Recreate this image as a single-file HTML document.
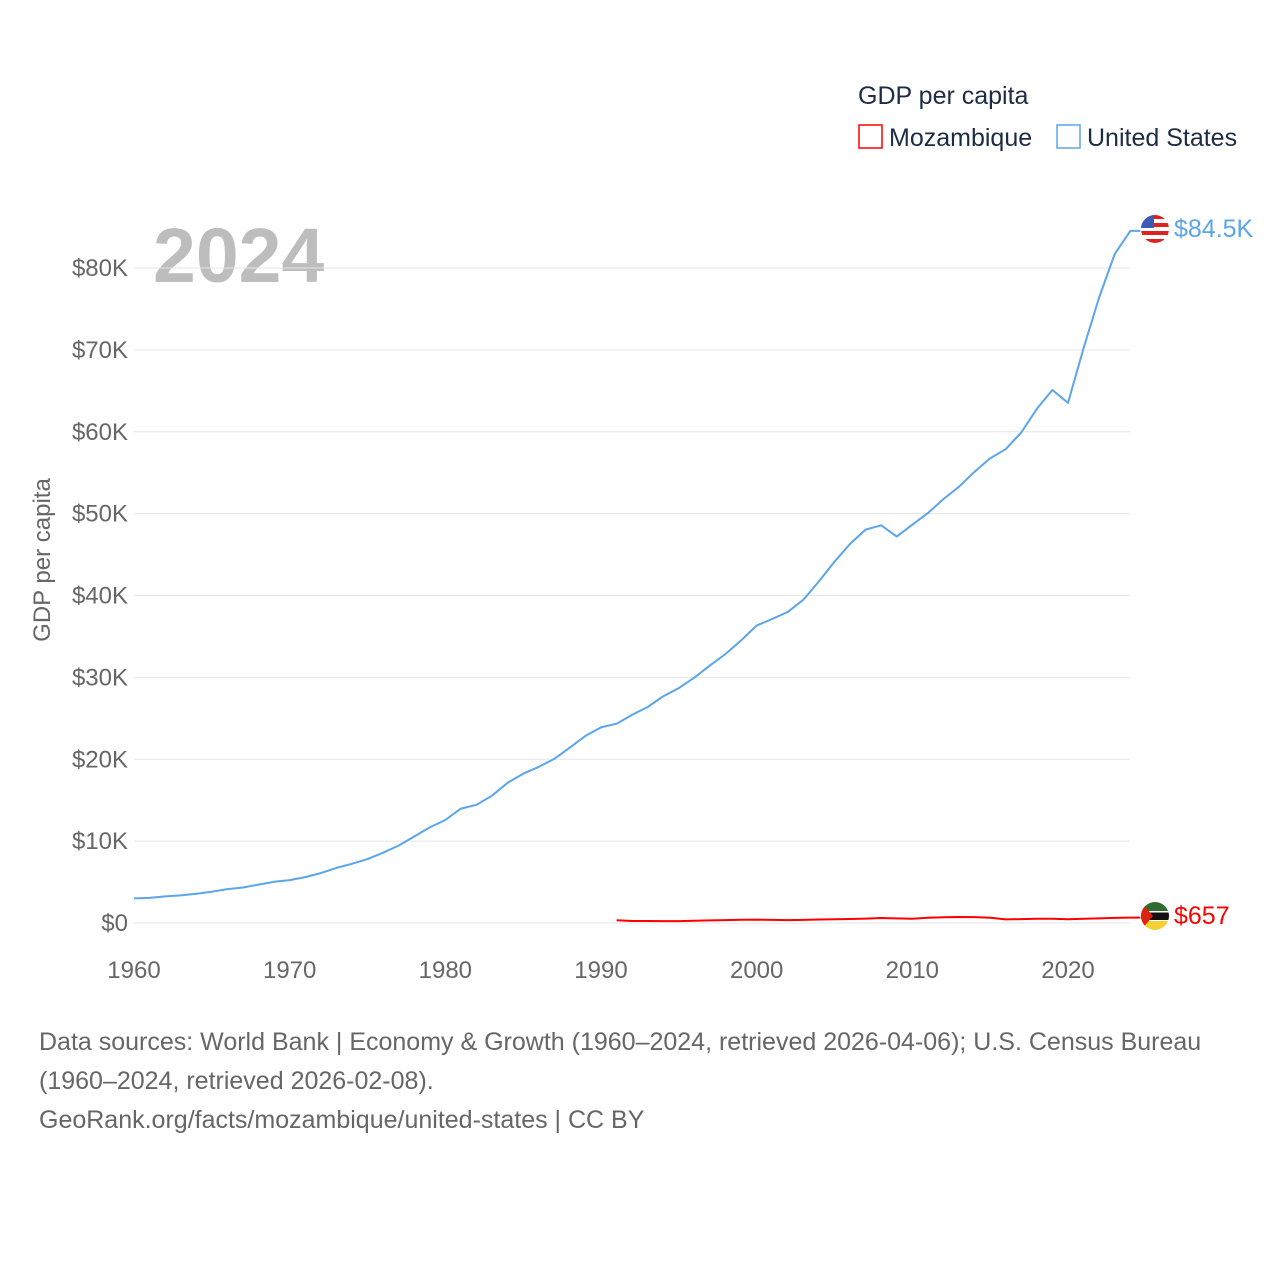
<!DOCTYPE html>
<html><head><meta charset="utf-8"><style>
body{margin:0;background:#fff;}
svg text{font-family:"Liberation Sans",sans-serif;}
</style></head><body>
<svg id="chart" width="1280" height="1280" xmlns="http://www.w3.org/2000/svg">
<text x="858" y="104" font-size="25" fill="#1d2b45">GDP per capita</text>
<g>
<rect x="859" y="125" width="23" height="23" fill="none" stroke="#f00" stroke-width="1.5"/>
<text x="889" y="146" font-size="25" fill="#1d2b45">Mozambique</text></g>
<g>
<rect x="1057" y="125" width="23" height="23" fill="none" stroke="#5aa5ec" stroke-width="1.5"/>
<text x="1087" y="146" font-size="25" fill="#1d2b45">United States</text></g>
<text x="153" y="282" font-size="77" font-weight="bold" fill="#bdbdbd">2024</text>
<g id="grid"></g><g id="series"></g>
<text transform="translate(50,560) rotate(-90)" text-anchor="middle" font-size="24" fill="#666">GDP per capita</text>
<g>
<clipPath id="c1"><circle cx="1155" cy="229" r="14"/></clipPath>
<g clip-path="url(#c1)"><rect x="1141" y="215" width="28" height="28" fill="#fff"/>
<rect x="1141" y="215" width="28" height="4" fill="#d22"/><rect x="1141" y="223" width="28" height="4" fill="#d22"/><rect x="1141" y="231" width="28" height="4" fill="#d22"/><rect x="1141" y="239" width="28" height="4" fill="#d22"/>
<rect x="1141" y="215" width="13" height="13" fill="#3b5bb5"/></g></g>
<g>
<clipPath id="c2"><circle cx="1155" cy="916" r="14"/></clipPath>
<g clip-path="url(#c2)"><rect x="1141" y="902" width="28" height="10" fill="#2f6b2f"/>
<rect x="1141" y="912" width="28" height="8" fill="#111"/><rect x="1141" y="911" width="28" height="1.5" fill="#fff"/><rect x="1141" y="920" width="28" height="1.5" fill="#fff"/>
<rect x="1141" y="921" width="28" height="9" fill="#f5d030"/><polygon points="1141,902 1153,916 1141,930" fill="#d21"/></g></g>
<text x="1174" y="237" font-size="25" fill="#5aa5ec">$84.5K</text>
<text x="1174" y="924" font-size="25" fill="#f00">$657</text>
<text x="39" y="1050" font-size="25" fill="#666">Data sources: World Bank | Economy &amp; Growth (1960–2024, retrieved 2026-04-06); U.S. Census Bureau</text>
<text x="39" y="1089" font-size="25" fill="#666">(1960–2024, retrieved 2026-02-08).</text>
<text x="39" y="1128" font-size="25" fill="#666">GeoRank.org/facts/mozambique/united-states | CC BY</text>
</svg>
<script>
const yTicks=[0,10000,20000,30000,40000,50000,60000,70000,80000];
const yTickLabels=["$0","$10K","$20K","$30K","$40K","$50K","$60K","$70K","$80K"];
const xTicks=[1960,1970,1980,1990,2000,2010,2020];
const usYears=[];for(let y=1960;y<=2024;y++)usYears.push(y);
const usValues=[3007,3067,3244,3375,3574,3828,4146,4336,4696,5032,5234,5609,6094,6726,7226,7801,8592,9453,10565,11674,12575,13976,14434,15544,17121,18237,19071,20039,21417,22857,23889,24342,25419,26387,27695,28691,29968,31459,32854,34516,36330,37134,37998,39490,41725,44123,46302,48050,48570,47195,48651,50066,51784,53291,55124,56763,57867,59915,62805,65095,63528,70219,76399,81695,84534];
const mzYears=[];for(let y=1991;y<=2024;y++)mzYears.push(y);
const mzValues=[330,250,250,230,230,270,320,350,390,420,380,360,380,430,470,490,540,610,560,510,640,700,730,720,630,440,480,530,530,460,510,560,620,657];
const X=y=>134+(y-1960)*(1068-134)/60;
const Y=v=>923-v*(923-268)/80000;
const NS="http://www.w3.org/2000/svg";
const grid=document.getElementById('grid'),ser=document.getElementById('series');
function mk(t,a,p){const e=document.createElementNS(NS,t);for(const k in a)e.setAttribute(k,a[k]);p.appendChild(e);return e;}
yTicks.forEach((v,i)=>{
 const l=mk('line',{x1:134,x2:1130,y1:Y(v),y2:Y(v),stroke:'#e6e6e6','stroke-width':1},grid);
 
 
 const t=mk('text',{x:128,y:Y(v)+8,'text-anchor':'end','font-size':24,fill:'#666'},grid);
 t.textContent=yTickLabels[i];
 
 
});
xTicks.forEach(y=>{
 const t=mk('text',{x:X(y),y:978,'text-anchor':'middle','font-size':24,fill:'#666'},grid);
 t.textContent=y;
 
 
});
function line(years,vals,color,name){
 let d=years.map((y,i)=>(i?'L':'M')+X(y).toFixed(1)+','+Y(vals[i]).toFixed(1)).join('');
 d+='L'+(X(years[years.length-1])+10).toFixed(1)+','+Y(vals[vals.length-1]).toFixed(1);
 const p=mk('path',{d:d,fill:'none',stroke:color,'stroke-width':2,'stroke-linejoin':'round'},ser);
 
 
}
line(usYears,usValues,'#5aa5ec','us-line');
line(mzYears,mzValues,'#f00','mozambique-line');
</script>
</body></html>
